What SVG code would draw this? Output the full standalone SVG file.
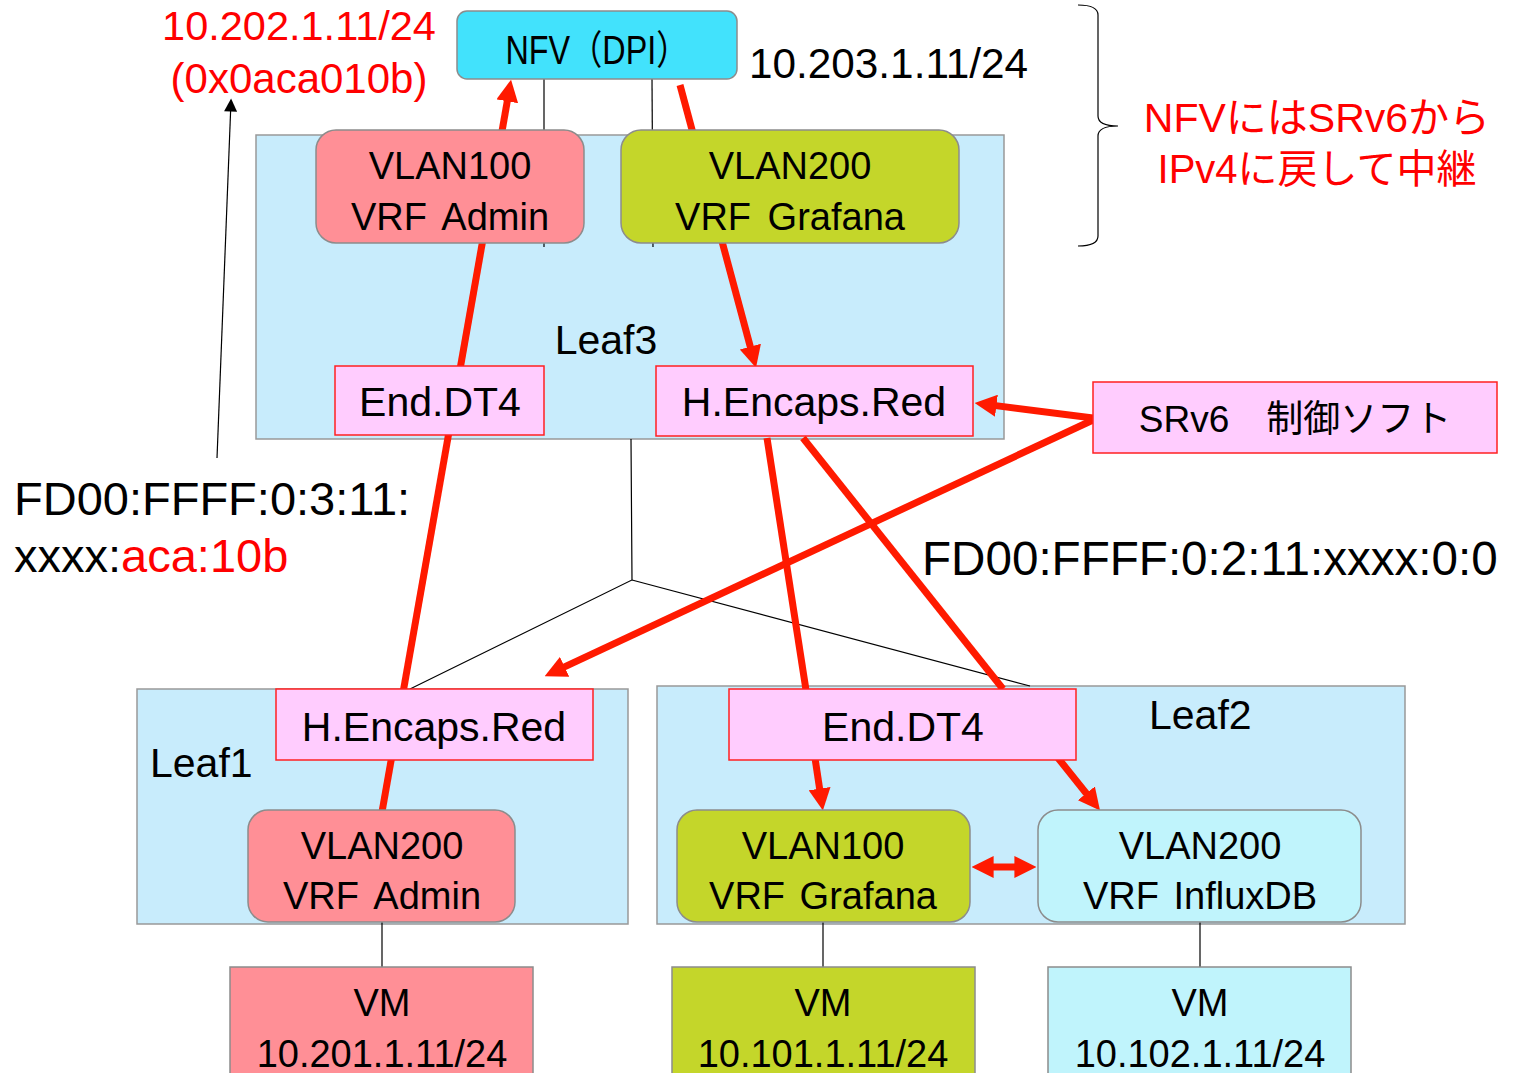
<svg xmlns="http://www.w3.org/2000/svg" width="1513" height="1073" viewBox="0 0 1513 1073">
<defs>
<marker id="ah" viewBox="0 0 10 10" refX="3" refY="5" markerWidth="22" markerHeight="22" markerUnits="userSpaceOnUse" orient="auto-start-reverse"><path d="M0,0 L10,5 L0,10 z" fill="#ff1a00"/></marker>
<marker id="bh" viewBox="0 0 10 10" refX="8" refY="5" markerWidth="14" markerHeight="13" markerUnits="userSpaceOnUse" orient="auto"><path d="M0,0 L10,5 L0,10 z" fill="#000"/></marker>
</defs>
<style>
.t{font-family:"Liberation Sans","Noto Sans CJK JP",sans-serif;fill:#000}
.r{fill:#ff0000}
.leaf{fill:#c8ecfc;stroke:#999;stroke-width:1.5}
.srv{fill:#ffccfe;stroke:#ff2020;stroke-width:1.5}
.rb{stroke:#8c8c8c;stroke-width:1.5}
.thin{stroke:#000;stroke-width:1.2;fill:none}
.red{stroke:#ff1a00;stroke-width:7;fill:none}
</style>
<rect width="1513" height="1073" fill="#fff"/>

<g id="leaf3"><rect class="leaf" x="256" y="135" width="748" height="304"/><text class="t" x="606" y="354" font-size="41" text-anchor="middle">Leaf3</text></g>
<g id="leaf1"><rect class="leaf" x="137" y="689" width="491" height="235"/><text class="t" x="150" y="777" font-size="41">Leaf1</text></g>
<g id="leaf2"><rect class="leaf" x="657" y="686" width="748" height="238"/><text class="t" x="1149" y="729" font-size="41">Leaf2</text></g>

<g id="connectors">
<line class="thin" x1="544" y1="79" x2="544" y2="247"/>
<line class="thin" x1="652" y1="79" x2="653" y2="247"/>
<polyline class="thin" points="631,439 632,580 410,689"/>
<line class="thin" x1="632" y1="580" x2="1030" y2="686"/>
<line class="thin" x1="382" y1="922" x2="382" y2="967"/>
<line class="thin" x1="823" y1="922" x2="823" y2="967"/>
<line class="thin" x1="1200" y1="922" x2="1200" y2="967"/>
<line class="thin" x1="217" y1="458" x2="231" y2="101" marker-end="url(#bh)"/>
<line class="red" x1="382" y1="812" x2="508.4" y2="94.8" marker-end="url(#ah)"/>
<line class="red" x1="680" y1="85" x2="752" y2="353" marker-end="url(#ah)"/>
<line class="red" x1="767" y1="438" x2="806" y2="690"/>
<line class="red" x1="803" y1="438" x2="1003" y2="689"/>
<line class="red" x1="815" y1="758" x2="820.6" y2="795.2" marker-end="url(#ah)"/>
<line class="red" x1="1058" y1="758" x2="1090.4" y2="798.5" marker-end="url(#ah)"/>
<line class="red" x1="1093" y1="418" x2="989.9" y2="404.9" marker-end="url(#ah)"/>
<line class="red" x1="1093" y1="420" x2="558.6" y2="669.7" marker-end="url(#ah)"/>
<line class="red" x1="987" y1="867" x2="1021" y2="867" marker-start="url(#ah)" marker-end="url(#ah)"/>
<path class="thin" d="M1078,5 Q1098,5 1098,15 L1098,116 Q1098,126 1118,126 Q1098,126 1098,136 L1098,236 Q1098,246 1078,246" stroke-width="1.5"/>
</g>

<g id="nfv"><rect class="rb" x="457" y="11" width="280" height="68" rx="10" fill="#42e2fc"/><text class="t" x="597" y="64" font-size="40" text-anchor="middle" textLength="183" lengthAdjust="spacingAndGlyphs">NFV（DPI）</text></g>
<g id="vlan100-admin"><rect class="rb" x="316" y="130" width="268" height="113" rx="20" fill="#ff8f96"/><text class="t" x="450" y="179" font-size="38" text-anchor="middle">VLAN100</text><text class="t" x="450" y="230" font-size="38" text-anchor="middle" word-spacing="6">VRF Admin</text></g>
<g id="vlan200-grafana"><rect class="rb" x="621" y="130" width="338" height="113" rx="20" fill="#c4d62a"/><text class="t" x="790" y="179" font-size="38" text-anchor="middle">VLAN200</text><text class="t" x="790" y="230" font-size="38" text-anchor="middle" word-spacing="6">VRF Grafana</text></g>
<g id="leaf3-enddt4"><rect class="srv" x="335" y="366" width="209" height="69"/><text class="t" x="440" y="416" font-size="41" text-anchor="middle">End.DT4</text></g>
<g id="leaf3-hencaps"><rect class="srv" x="656" y="366" width="317" height="70"/><text class="t" x="814" y="416" font-size="41" text-anchor="middle">H.Encaps.Red</text></g>
<g id="srv6-ctrl"><rect class="srv" x="1093" y="382" width="404" height="71"/><text class="t" x="1295" y="432" font-size="37" text-anchor="middle">SRv6　制御ソフト</text></g>
<g id="leaf1-hencaps"><rect class="srv" x="276" y="689" width="317" height="71"/><text class="t" x="434" y="741" font-size="41" text-anchor="middle">H.Encaps.Red</text></g>
<g id="vlan200-admin"><rect class="rb" x="248" y="810" width="267" height="112" rx="20" fill="#ff8f96"/><text class="t" x="382" y="859" font-size="38" text-anchor="middle">VLAN200</text><text class="t" x="382" y="909" font-size="38" text-anchor="middle" word-spacing="6">VRF Admin</text></g>
<g id="leaf2-enddt4"><rect class="srv" x="729" y="689" width="347" height="71"/><text class="t" x="903" y="741" font-size="41" text-anchor="middle">End.DT4</text></g>
<g id="vlan100-grafana"><rect class="rb" x="677" y="810" width="293" height="112" rx="20" fill="#c4d62a"/><text class="t" x="823" y="859" font-size="38" text-anchor="middle">VLAN100</text><text class="t" x="823" y="909" font-size="38" text-anchor="middle" word-spacing="4">VRF Grafana</text></g>
<g id="vlan200-influxdb"><rect class="rb" x="1038" y="810" width="323" height="112" rx="20" fill="#c0f4fc"/><text class="t" x="1200" y="859" font-size="38" text-anchor="middle">VLAN200</text><text class="t" x="1200" y="909" font-size="38" text-anchor="middle" word-spacing="4">VRF InfluxDB</text></g>
<g id="vm-admin"><rect class="rb" x="230" y="967" width="303" height="120" fill="#ff8f96"/><text class="t" x="382" y="1016" font-size="38" text-anchor="middle">VM</text><text class="t" x="382" y="1067" font-size="38" text-anchor="middle">10.201.1.11/24</text></g>
<g id="vm-grafana"><rect class="rb" x="672" y="967" width="303" height="120" fill="#c4d62a"/><text class="t" x="823" y="1016" font-size="38" text-anchor="middle">VM</text><text class="t" x="823" y="1067" font-size="38" text-anchor="middle">10.101.1.11/24</text></g>
<g id="vm-influxdb"><rect class="rb" x="1048" y="967" width="303" height="120" fill="#c0f4fc"/><text class="t" x="1200" y="1016" font-size="38" text-anchor="middle">VM</text><text class="t" x="1200" y="1067" font-size="38" text-anchor="middle">10.102.1.11/24</text></g>

<g id="labels">
<text class="t r" x="299" y="40" font-size="41.5" text-anchor="middle">10.202.1.11/24</text>
<text class="t r" x="299" y="93" font-size="42" text-anchor="middle">(0x0aca010b)</text>
<text class="t" x="749" y="78" font-size="42.3">10.203.1.11/24</text>
<text class="t r" x="1317" y="132" font-size="41" text-anchor="middle">NFVにはSRv6から</text>
<text class="t r" x="1317" y="183" font-size="40" text-anchor="middle">IPv4に戻して中継</text>
<text class="t" x="14" y="515" font-size="47">FD00:FFFF:0:3:11:</text>
<text class="t" x="14" y="572" font-size="47">xxxx:<tspan class="r">aca:10b</tspan></text>
<text class="t" x="922" y="575" font-size="47.6">FD00:FFFF:0:2:11:xxxx:0:0</text>
</g>
</svg>
